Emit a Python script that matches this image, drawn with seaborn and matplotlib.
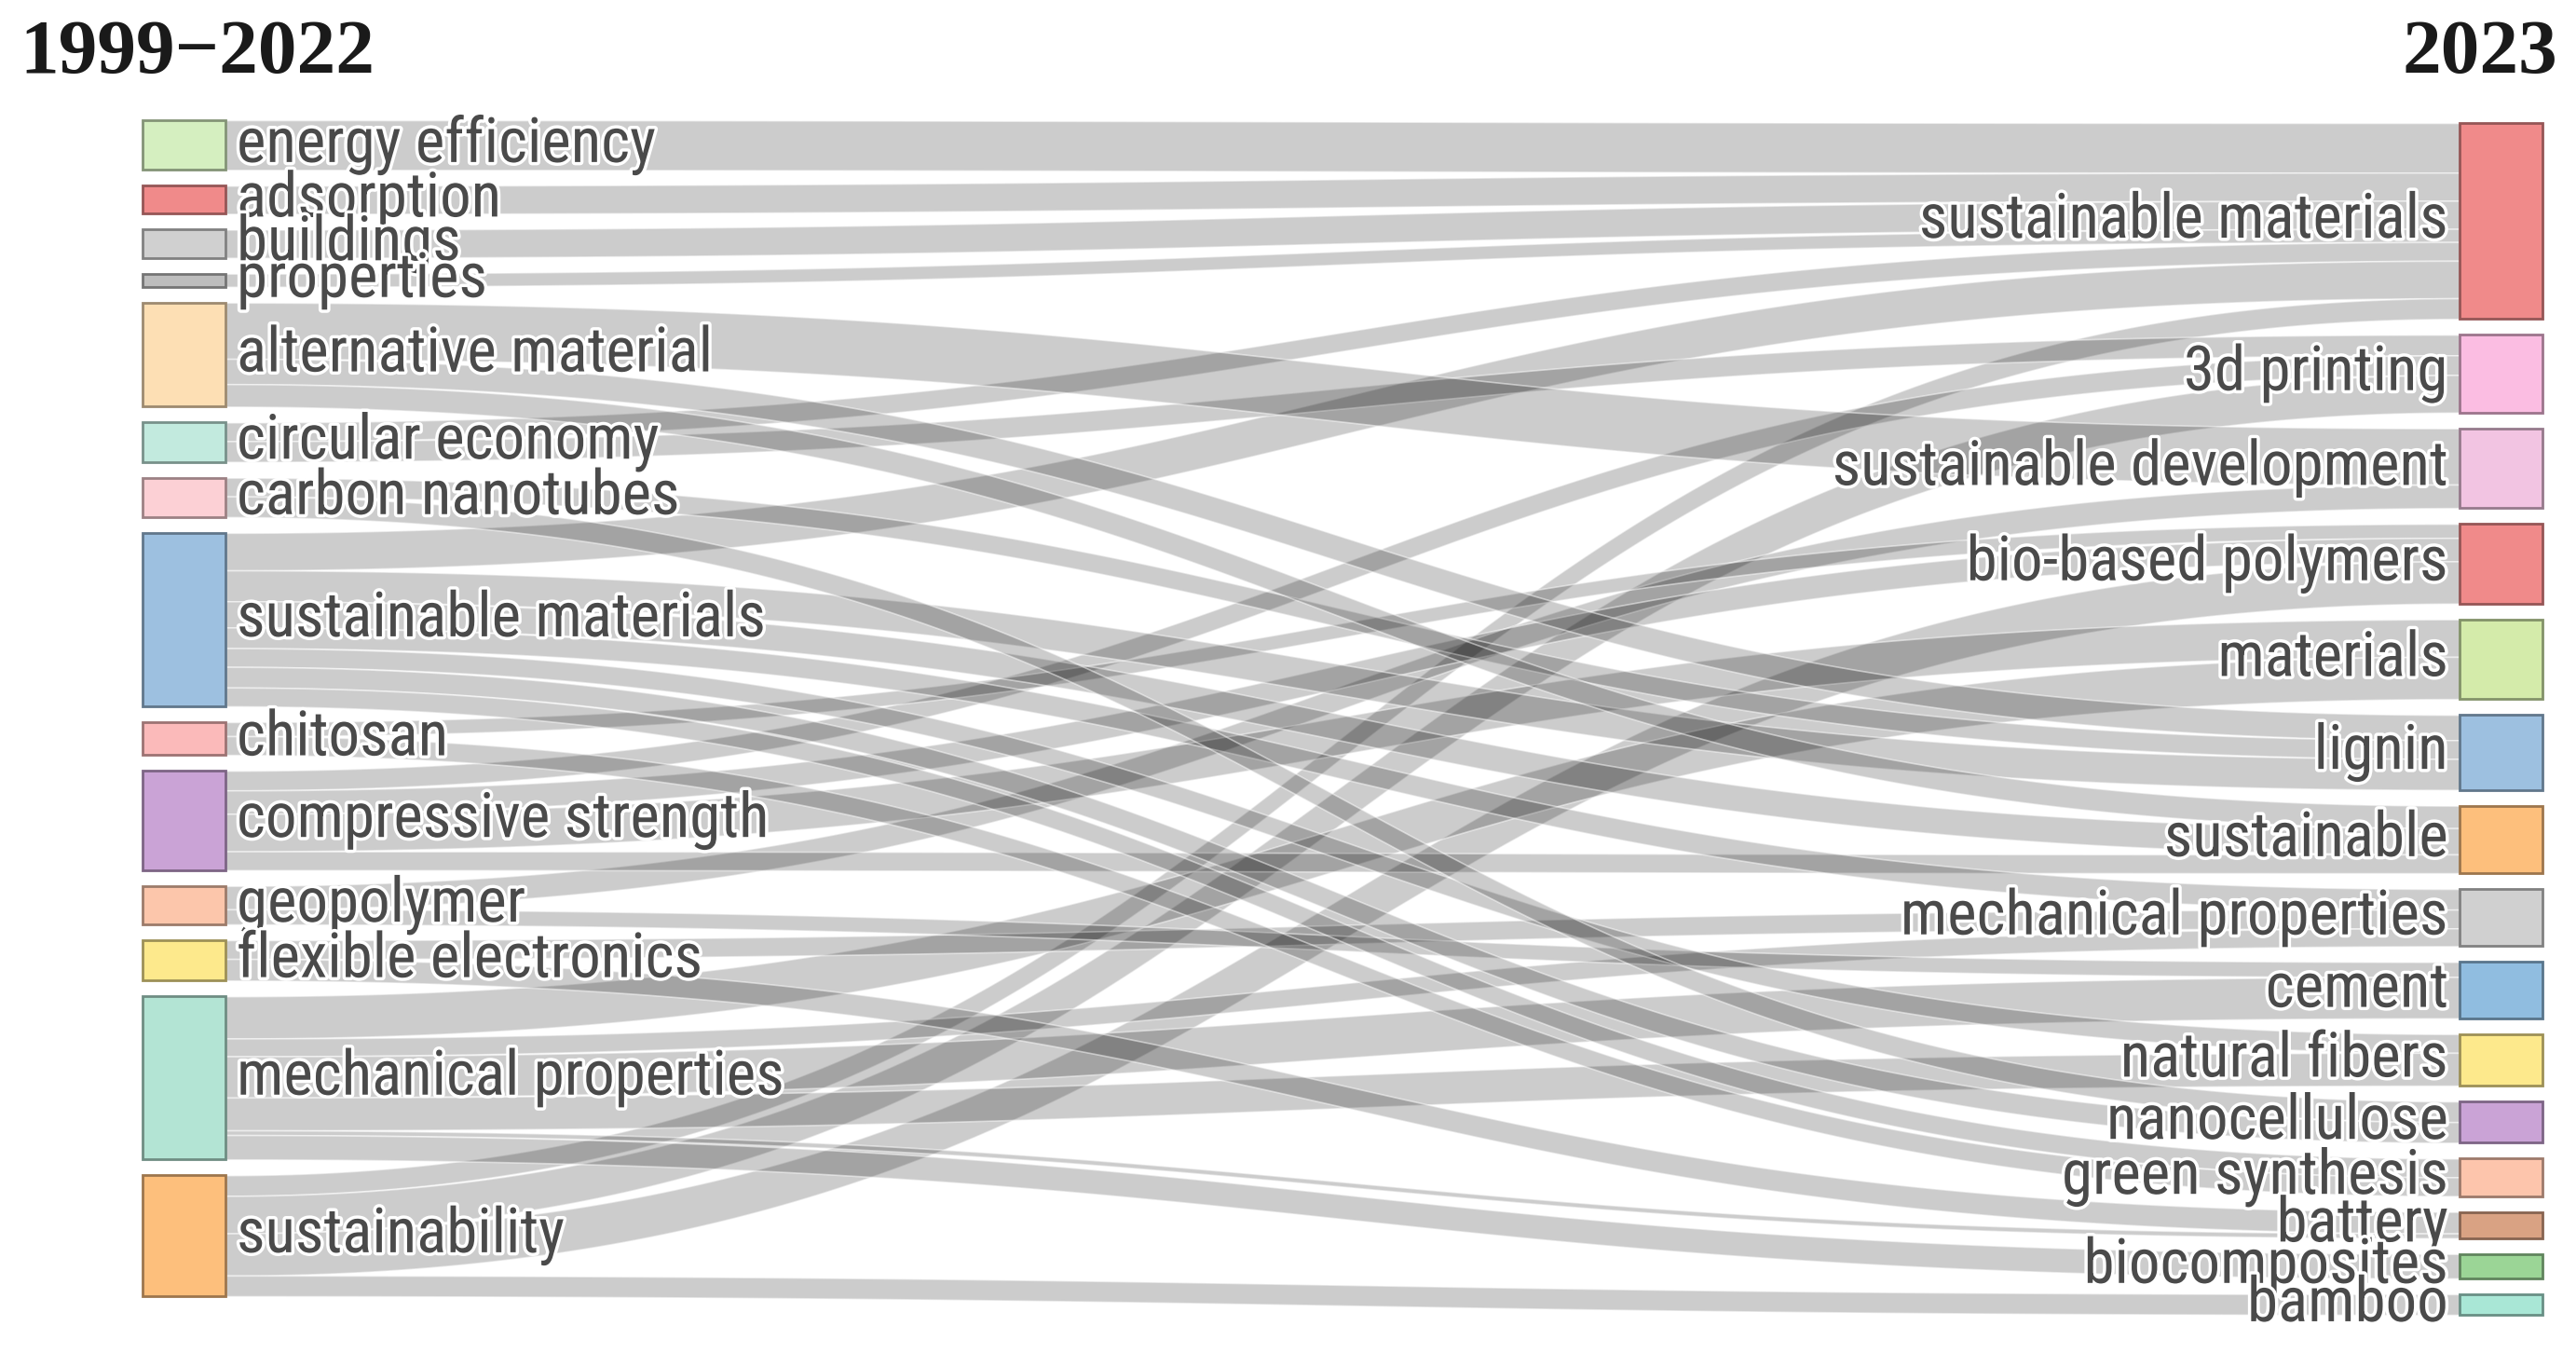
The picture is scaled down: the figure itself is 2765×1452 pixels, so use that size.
"""Thematic evolution sankey: 1999-2022 themes flowing into 2023 themes."""

import matplotlib
matplotlib.use("Agg")
import matplotlib.pyplot as plt
import matplotlib.patheffects as pe
from matplotlib import font_manager
from matplotlib.colors import to_rgb
from matplotlib.patches import Rectangle
import numpy as np
import pandas as pd
import seaborn as sns

# ---- data -------------------------------------------------------------
left_nodes = [
    "energy efficiency", "adsorption", "buildings", "properties",
    "alternative material", "circular economy", "carbon nanotubes",
    "sustainable materials", "chitosan", "compressive strength",
    "geopolymer", "flexible electronics", "mechanical properties",
    "sustainability",
]
left_colors = [
    "#d5efc0", "#f08a8a", "#d0d0d0", "#bdbdbd", "#fddfb4", "#c2eade",
    "#fcd0d5", "#9dc0e0", "#fbbaba", "#caa3d6", "#fcc6ab", "#fde98c",
    "#b3e4d4", "#fdbf7c",
]

right_nodes = [
    "sustainable materials", "3d printing", "sustainable development",
    "bio-based polymers", "materials", "lignin", "sustainable",
    "mechanical properties", "cement", "natural fibers", "nanocellulose",
    "green synthesis", "battery", "biocomposites", "bamboo",
]
right_colors = [
    "#f08a8a", "#fbbde2", "#f2c4e2", "#f08a8a", "#d4ebaa", "#9dc0e0",
    "#fdbf7c", "#d0d0d0", "#90bde0", "#fde98c", "#caa3d6", "#fdc5ac",
    "#d9a283", "#9bd596", "#a9e7d6",
]

link_source = [
    "energy efficiency", "adsorption", "buildings", "properties",
    "circular economy", "sustainable materials", "sustainability",
    "circular economy", "compressive strength", "sustainability",
    "alternative material", "geopolymer",
    "compressive strength", "chitosan", "sustainability",
    "compressive strength", "mechanical properties",
    "alternative material", "carbon nanotubes", "sustainable materials",
    "alternative material", "sustainable materials", "compressive strength",
    "sustainable materials", "flexible electronics", "mechanical properties",
    "mechanical properties", "geopolymer",
    "sustainable materials", "mechanical properties",
    "carbon nanotubes", "sustainable materials",
    "chitosan", "sustainable materials",
    "flexible electronics", "mechanical properties",
    "mechanical properties",
    "sustainability",
]
link_target = [
    "sustainable materials", "sustainable materials", "sustainable materials",
    "sustainable materials", "sustainable materials", "sustainable materials",
    "sustainable materials",
    "3d printing", "3d printing", "3d printing",
    "sustainable development", "sustainable development",
    "bio-based polymers", "bio-based polymers", "bio-based polymers",
    "materials", "materials",
    "lignin", "lignin", "lignin",
    "sustainable", "sustainable", "sustainable",
    "mechanical properties", "mechanical properties", "mechanical properties",
    "cement", "cement",
    "natural fibers", "natural fibers",
    "nanocellulose", "nanocellulose",
    "green synthesis", "green synthesis",
    "battery", "battery",
    "biocomposites",
    "bamboo",
]
link_value = [
    53, 30, 30, 14, 20, 40, 22,
    22, 21, 40,
    60, 25,
    25, 15, 45,
    40, 45,
    27, 20, 33,
    24, 28, 20,
    22, 20, 19,
    44, 16,
    20, 35,
    22, 22,
    20, 20,
    23, 5,
    26,
    22,
]

# ---- style ------------------------------------------------------------
sns.set_theme(style="white")
available = {f.name for f in font_manager.fontManager.ttflist}
label_family = "Roboto"
for fam in ["Liberation Sans Narrow", "Roboto Condensed", "Noto Sans Condensed",
            "Open Sans Condensed", "DejaVu Sans Condensed"]:
    if fam in available:
        label_family = fam
        break
plt.rcParams["font.family"] = [label_family, "DejaVu Sans"]

W, H, DPI = 2765, 1452, 100
X_LEFT, X_RIGHT, NODE_W = 153, 2640, 89
LEFT_TOP, RIGHT_TOP, RIGHT_BOTTOM, PAD = 129, 132, 1411, 17
LINK_RGBA = (0, 0, 0, 0.2)

links = pd.DataFrame({"source": link_source, "target": link_target, "value": link_value})
links["si"] = links["source"].map({n: i for i, n in enumerate(left_nodes)})
links["ti"] = links["target"].map({n: i for i, n in enumerate(right_nodes)})

left_val = links.groupby("si")["value"].sum().reindex(range(len(left_nodes))).values
right_val = links.groupby("ti")["value"].sum().reindex(range(len(right_nodes))).values
scale = (RIGHT_BOTTOM - RIGHT_TOP - PAD * (len(right_nodes) - 1)) / right_val.sum()


def column_layout(values, top):
    spans, y = [], top
    for v in values:
        h = v * scale
        spans.append((y, y + h))
        y += h + PAD
    return spans


left_span = column_layout(left_val, LEFT_TOP)
right_span = column_layout(right_val, RIGHT_TOP)

# stack link ends inside each node, ordered by the node at the other end
links = links.sort_values(["si", "ti"])
off = {i: left_span[i][0] for i in range(len(left_nodes))}
y0 = {}
for idx, r in links.iterrows():
    h = r["value"] * scale
    y0[idx] = (off[r["si"]], off[r["si"]] + h)
    off[r["si"]] += h
links = links.sort_values(["ti", "si"])
off = {i: right_span[i][0] for i in range(len(right_nodes))}
y1 = {}
for idx, r in links.iterrows():
    h = r["value"] * scale
    y1[idx] = (off[r["ti"]], off[r["ti"]] + h)
    off[r["ti"]] += h

fig = plt.figure(figsize=(W / DPI, H / DPI), dpi=DPI)
ax = fig.add_axes([0, 0, 1, 1])
ax.set_xlim(0, W)
ax.set_ylim(H, 0)
ax.axis("off")

xa, xb = X_LEFT + NODE_W, X_RIGHT
t = np.linspace(0, 1, 200)
xs = (1 - t) ** 3 * xa + 3 * (1 - t) * t * (xa + xb) / 2 + t ** 3 * xb
ease = 3 * t ** 2 - 2 * t ** 3
for idx in links.index:
    (a0, a1), (b0, b1) = y0[idx], y1[idx]
    top = a0 + (b0 - a0) * ease
    bot = a1 + (b1 - a1) * ease
    ax.fill_between(xs, top, bot, facecolor=LINK_RGBA,
                    edgecolor=(1, 1, 1, 0.5), linewidth=1.2)


def darker(c, f=0.62):
    return tuple(v * f for v in to_rgb(c))


# fit label size to the reference width of "energy efficiency" (~446 px)
probe = ax.text(0, 0, "energy efficiency", fontsize=10)
renderer = fig.canvas.get_renderer()
fs = 10 * 446 / probe.get_window_extent(renderer).width
probe.remove()
halo = [pe.withStroke(linewidth=5, foreground="white")]

for name, c, (a, b) in zip(left_nodes, left_colors, left_span):
    ax.add_patch(Rectangle((X_LEFT, a), NODE_W, b - a, facecolor=c,
                           edgecolor=darker(c), linewidth=2, zorder=3))
    ax.text(X_LEFT + NODE_W + 12, (a + b) / 2, name, ha="left", va="center",
            fontsize=fs, color="#4a4a4a", path_effects=halo, zorder=4)

for name, c, (a, b) in zip(right_nodes, right_colors, right_span):
    ax.add_patch(Rectangle((X_RIGHT, a), NODE_W, b - a, facecolor=c,
                           edgecolor=darker(c), linewidth=2, zorder=3))
    ax.text(X_RIGHT - 12, (a + b) / 2, name, ha="right", va="center",
            fontsize=fs, color="#4a4a4a", path_effects=halo, zorder=4)

title_kw = dict(fontsize=60, fontweight="bold", color="#1a1a1a", va="center",
                family=["Liberation Serif", "DejaVu Serif"])
ax.text(21, 58, "1999\u22122022", ha="left", **title_kw)
ax.text(2745, 58, "2023", ha="right", **title_kw)

fig.savefig("out.png", dpi=DPI, facecolor="white")
plt.close(fig)
